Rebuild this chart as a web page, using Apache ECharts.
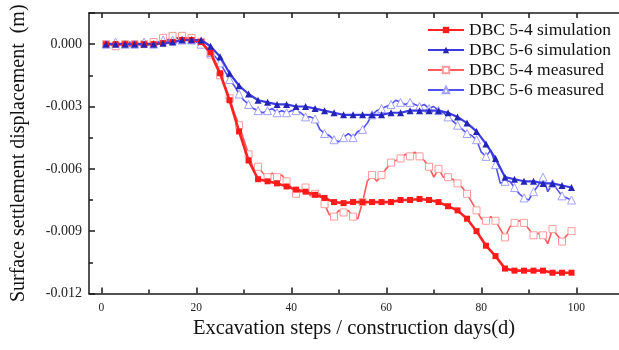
<!DOCTYPE html>
<html>
<head>
<meta charset="utf-8">
<script src="https://cdn.jsdelivr.net/npm/echarts@6/dist/echarts.min.js"></script>
<style>
  html, body { margin: 0; padding: 0; background: #fff; }
  #chart { width: 619px; height: 350px; }
</style>
</head>
<body>
<div id="chart"></div>
<script>
// Simulated settlement, sampled every second day
const simDays = [1,3,5,7,9,11,13,15,17,19,21,23,25,27,29,31,33,35,37,39,41,43,45,47,49,
  51,53,55,57,59,61,63,65,67,69,71,73,75,77,79,81,83,85,87,89,91,93,95,97,99];
const sim54 = [0,0,0,0,0,0,0.00005,0.0001,0.0002,0.0002,0.0001,-0.0004,-0.0014,-0.0027,-0.0042,
  -0.0056,-0.0065,-0.0066,-0.0067,-0.00685,-0.0070,-0.0071,-0.00725,-0.0074,-0.0076,
  -0.00765,-0.0076,-0.0076,-0.0076,-0.0076,-0.0076,-0.0075,-0.0075,-0.00745,-0.0075,
  -0.0076,-0.0078,-0.0080,-0.0084,-0.0090,-0.0097,-0.0102,-0.0108,-0.0109,-0.0109,
  -0.0109,-0.0109,-0.0110,-0.0110,-0.0110];
const sim56 = [0,0,0,0,0,0,0.00005,0.0001,0.0002,0.0002,0.0002,-0.0001,-0.0006,-0.0014,-0.0020,
  -0.0024,-0.0027,-0.0028,-0.0029,-0.0029,-0.0030,-0.0030,-0.0031,-0.0032,-0.0033,
  -0.0034,-0.0034,-0.0034,-0.0034,-0.0034,-0.0033,-0.0033,-0.0032,-0.0032,-0.0032,
  -0.0032,-0.0033,-0.0035,-0.0038,-0.0042,-0.0048,-0.0055,-0.0064,-0.0065,-0.0066,
  -0.0066,-0.0067,-0.0067,-0.0068,-0.0069];

// Measured settlement, daily readings
const measDays = [];
for (let d = 1; d <= 99; d++) measDays.push(d);
const meas54 = [0,0,-0.0001,0,0,-0.0001,0,0,0,0,0.0001,0.0001,0.0003,0.0002,0.0004,0.0003,0.0004,
  0.0003,0.0003,0.0002,0.0001,-0.0002,-0.0005,-0.0010,-0.0015,-0.0020,-0.0026,-0.0033,-0.0039,
  -0.0046,-0.0053,-0.0060,-0.0059,-0.0062,-0.0064,-0.0062,-0.0064,-0.0063,-0.0066,-0.0069,
  -0.0072,-0.0071,-0.0069,-0.0073,-0.0072,-0.0072,-0.0077,-0.0082,-0.0083,-0.0080,-0.0081,
  -0.0080,-0.0083,-0.0084,-0.0076,-0.0066,-0.0063,-0.0066,-0.0063,-0.0060,-0.0057,-0.0056,
  -0.0055,-0.0053,-0.0054,-0.0052,-0.0054,-0.0056,-0.0059,-0.0064,-0.0060,-0.0064,-0.0064,
  -0.0065,-0.0067,-0.0069,-0.0072,-0.0076,-0.0080,-0.0084,-0.0085,-0.0083,-0.0085,-0.0089,
  -0.0093,-0.0088,-0.0086,-0.0085,-0.0086,-0.0089,-0.0092,-0.0091,-0.0092,-0.0096,-0.0089,
  -0.0092,-0.0095,-0.0092,-0.0090];
const meas56 = [0,0,0.0001,0,0,0.0001,0,0,0.0001,0,0,0.0001,0.0002,0.0002,0.0002,0.0003,0.0002,
  0.0002,0.0002,0.0001,0,-0.0002,-0.0004,-0.0006,-0.0009,-0.0013,-0.0017,-0.0020,-0.0024,
  -0.0027,-0.0029,-0.0031,-0.0032,-0.0033,-0.0032,-0.0031,-0.0033,-0.0032,-0.0033,-0.0032,
  -0.0032,-0.0033,-0.0035,-0.0035,-0.0036,-0.0041,-0.0043,-0.0044,-0.0046,-0.0047,-0.0045,
  -0.0043,-0.0045,-0.0042,-0.0041,-0.0038,-0.0034,-0.0032,-0.0031,-0.0030,-0.0029,-0.0027,
  -0.0028,-0.0029,-0.0028,-0.0029,-0.0030,-0.0029,-0.0031,-0.0030,-0.0032,-0.0033,-0.0035,
  -0.0037,-0.0039,-0.0041,-0.0043,-0.0044,-0.0046,-0.0052,-0.0054,-0.0051,-0.0058,-0.0067,
  -0.0066,-0.0066,-0.0069,-0.0072,-0.0074,-0.0075,-0.0071,-0.0068,-0.0064,-0.0071,-0.0067,
  -0.0070,-0.0073,-0.0074,-0.0075];

// Axis ticks
const xLabelTicks = [0, 20, 40, 60, 80, 100];
const xMinorTicks = [10, 30, 50, 70, 90];
const xTopTicks = [0, 10, 20, 30, 40, 50, 60, 70, 80, 90, 100];

const seriesNames = ['DBC 5-4 simulation', 'DBC 5-6 simulation', 'DBC 5-4 measured', 'DBC 5-6 measured'];

const pairs = (xs, ys) => xs.map((x, i) => [x, ys[i]]);
const serif = 'Liberation Serif';
const axisColor = '#1a1a1a';
const hidden = { show: false };
const frameLine = { show: true, onZero: false, lineStyle: { color: axisColor, width: 1.5 } };
const tickLine = { color: axisColor, width: 1.5 };

// measured readings: markers on every second reading only
const everyOther = size => (val, params) => (params.dataIndex % 2 === 0 ? size : 0);

const chart = echarts.init(document.getElementById('chart'), null, { renderer: 'canvas' });

chart.setOption({
  animation: false,
  backgroundColor: '#fff',
  grid: { left: 89, top: 13, width: 534, height: 280.5 },
  legend: {
    orient: 'vertical',
    left: 422,
    top: 16,
    itemWidth: 36,
    itemHeight: 8,
    itemGap: 2,
    textStyle: { fontFamily: serif, fontSize: 17.5, color: '#111' },
    data: seriesNames
  },
  xAxis: [
    {
      type: 'value', position: 'bottom', min: -2.6, max: 109,
      name: 'Excavation steps / construction days(d)',
      nameLocation: 'middle', nameGap: 22,
      nameTextStyle: { fontFamily: serif, fontSize: 20.5, color: '#111' },
      axisLine: frameLine,
      axisTick: { show: true, inside: true, length: 6, customValues: xLabelTicks, lineStyle: tickLine },
      axisLabel: { customValues: xLabelTicks, fontFamily: serif, fontSize: 11.5, color: '#222', margin: 8 },
      splitLine: hidden
    },
    {
      type: 'value', position: 'bottom', min: -2.6, max: 109,
      axisLine: { show: false, onZero: false },
      axisTick: { show: true, inside: true, length: 4, customValues: xMinorTicks, lineStyle: tickLine },
      axisLabel: hidden,
      splitLine: hidden
    },
    {
      type: 'value', position: 'top', min: -2.6, max: 109,
      axisLine: frameLine,
      axisTick: { show: true, inside: true, length: 5, customValues: xTopTicks, lineStyle: tickLine },
      axisLabel: hidden,
      splitLine: hidden
    }
  ],
  yAxis: {
    type: 'value', min: -0.012, max: 0.0015, interval: 0.003,
    name: 'Surface settlement displacement  (m)',
    nameLocation: 'middle', nameGap: 60, nameRotate: 90,
    nameTextStyle: { fontFamily: serif, fontSize: 20, color: '#111' },
    axisLine: frameLine,
    axisTick: { show: true, inside: true, length: 6, lineStyle: tickLine },
    minorTick: { show: true, splitNumber: 2, length: 4, lineStyle: tickLine },
    axisLabel: {
      fontFamily: serif, fontSize: 14, color: '#222', margin: 7,
      showMaxLabel: false,
      formatter: v => (Math.abs(v) < 1e-9 ? 0 : v).toFixed(3)
    },
    splitLine: hidden
  },
  series: [
    {
      name: seriesNames[2], type: 'line', data: pairs(measDays, meas54),
      symbol: 'rect', symbolSize: everyOther(7), z: 2,
      lineStyle: { color: '#ff5a5a', width: 1.6 },
      itemStyle: { color: '#fff', borderColor: '#ff9a9a', borderWidth: 1 }
    },
    {
      name: seriesNames[3], type: 'line', data: pairs(measDays, meas56),
      symbol: 'triangle', symbolSize: everyOther(8), z: 2,
      lineStyle: { color: '#4f4ff5', width: 1.6 },
      itemStyle: { color: '#fff', borderColor: '#a0a0ff', borderWidth: 1 }
    },
    {
      name: seriesNames[0], type: 'line', data: pairs(simDays, sim54),
      symbol: 'rect', symbolSize: 6, z: 3,
      lineStyle: { color: '#ff2323', width: 2.6 },
      itemStyle: { color: '#ff1a1a', borderWidth: 0 }
    },
    {
      name: seriesNames[1], type: 'line', data: pairs(simDays, sim56),
      symbol: 'triangle', symbolSize: 7, z: 3,
      lineStyle: { color: '#3b3be6', width: 2.2 },
      itemStyle: { color: '#2323b4', borderWidth: 0 }
    }
  ]
});
</script>
</body>
</html>
